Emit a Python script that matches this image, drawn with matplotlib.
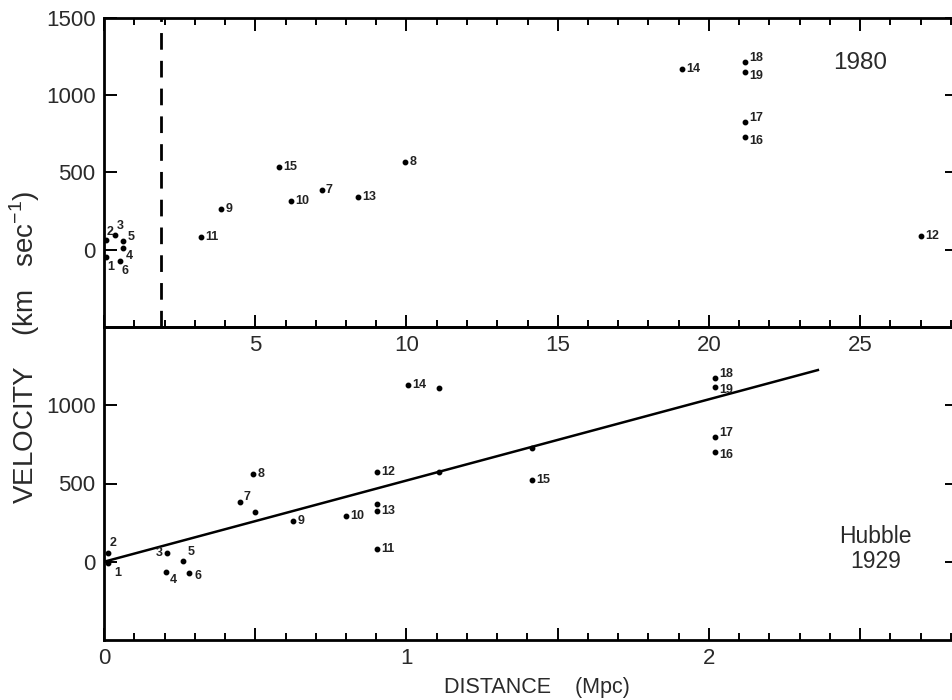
import matplotlib
matplotlib.use("Agg")
import matplotlib.pyplot as plt
from matplotlib.ticker import MultipleLocator, FixedLocator, FuncFormatter

plt.rcParams['font.family'] = ['Liberation Sans', 'DejaVu Sans']
plt.rcParams['mathtext.fontset'] = 'custom'
plt.rcParams['mathtext.rm'] = 'Liberation Sans'

# ---------------- data ----------------
galaxy_ids = [str(i) for i in range(1, 20)]

# 1980 distances (Mpc) and velocities (km/s)
dist_1980 = [0.05, 0.05, 0.36, 0.64, 0.64, 0.53, 7.2, 9.95, 3.88, 6.17,
             3.2, 27.0, 8.4, 19.1, 5.8, 21.2, 21.2, 21.2, 21.2]
vel_1980 = [-50, 60, 97, 11, 54, -76, 385, 569, 264, 318,
            80, 86, 340, 1168, 537, 729, 829, 1213, 1151]

# Hubble 1929 distances (Mpc) and velocities (km/s)
dist_1929 = [0.014, 0.013, 0.207, 0.205, 0.262, 0.281, 0.449, 0.493, 0.625, 0.801,
             0.903, 0.903, 0.903, 1.004, 1.414, 2.019, 2.019, 2.019, 2.019]
vel_1929 = [-9, 58, 56, -63, 2, -73, 381, 560, 262, 294,
            82, 575, 327, 1131, 521, 699, 798, 1175, 1116]

# unlabeled points in the 1929 panel
extra_dist_1929 = [0.498, 0.903, 1.106, 1.106, 1.416]
extra_vel_1929 = [320, 370, 1110, 575, 727]

# Hubble's fitted line
line_dist = [0.0, 2.36]
line_vel = [0, 1225]

dashed_dist_1980 = 1.9

top_xticks = [5, 10, 15, 20, 25]
bot_xticks = [0, 1, 2]
top_yticks = [0, 500, 1000, 1500]
bot_yticks = [0, 500, 1000]

# ---------------- figure ----------------
W, H = 952, 700
fig = plt.figure(figsize=(W / 100, H / 100), dpi=100)
fig.patch.set_facecolor('white')

left = 104 / W
right_px = 104 + 2.82 * 302.5
width = (right_px - 104) / W
ax_top = fig.add_axes([left, 1 - 327 / H, width, (327 - 18) / H])
ax_bot = fig.add_axes([left, 1 - 640 / H, width, (640 - 327) / H])

TXT = '#2a2a2a'
for ax in (ax_top, ax_bot):
    ax.set_ylim(-500, 1500)
    for s in ax.spines.values():
        s.set_linewidth(2.0)
    ax.tick_params(which='both', direction='in', width=1.4, labelsize=16,
                   left=True, right=True, pad=6, labelcolor=TXT)
    ax.tick_params(which='major', length=9)
    ax.tick_params(which='minor', length=5)

ax_top.set_xlim(0, 28.2)
ax_bot.set_xlim(0, 2.82)

# top panel ticks
ax_top.xaxis.set_major_locator(FixedLocator([0] + top_xticks))
ax_top.xaxis.set_major_formatter(FuncFormatter(lambda v, p: '' if v == 0 else f'{v:g}'))
ax_top.xaxis.set_minor_locator(MultipleLocator(1))
ax_top.tick_params(axis='x', which='both', top=True, bottom=True)
ax_top.yaxis.set_major_locator(FixedLocator(top_yticks))
ax_top.yaxis.set_minor_locator(FixedLocator([]))
ax_top.set_yticklabels([str(t) for t in top_yticks])
ax_top.set_zorder(3)
ax_top.patch.set_alpha(0)

# bottom panel ticks
ax_bot.xaxis.set_major_locator(MultipleLocator(0.5))
ax_bot.xaxis.set_major_formatter(
    FuncFormatter(lambda v, p: f'{int(round(v))}' if abs(v - round(v)) < 1e-6 and round(v) in bot_xticks else ''))
ax_bot.xaxis.set_minor_locator(MultipleLocator(0.1))
ax_bot.tick_params(axis='x', which='both', top=False, bottom=True)
ax_bot.yaxis.set_major_locator(FixedLocator(bot_yticks))
ax_bot.set_yticklabels([str(t) for t in bot_yticks])

# ---------------- marks ----------------
mk = dict(ls='none', marker='o', ms=3.2, color='black')
ax_top.plot(dist_1980, vel_1980, **mk)
ax_bot.plot(dist_1929, vel_1929, **mk)
ax_bot.plot(extra_dist_1929, extra_vel_1929, **mk)
ax_bot.plot(line_dist, line_vel, color='black', lw=1.8)
ax_top.axvline(dashed_dist_1980, color='black', lw=2.0, dashes=(6, 4))

lab_kw = dict(fontsize=9, fontweight='bold', color='#222222', va='center', ha='left')

top_off = {'1': (1, -7), '2': (1, 6), '3': (1, 6), '4': (2, -6), '5': (3, 3),
           '6': (1, -7)}
bot_off = {'1': (4, -7), '2': (1, 7), '3': (-8, 0), '4': (3, -6), '5': (3, 7),
           '6': (4, -2), '7': (3, 4)}
for gid, x, y in zip(galaxy_ids, dist_1980, vel_1980):
    dx, dy = top_off.get(gid, (3, 0))
    if gid in ('18', '17'):
        dy = 3
    if gid in ('19', '16'):
        dy = -3
    ax_top.annotate(gid, (x, y), xytext=(dx, dy), textcoords='offset points', **lab_kw)
for gid, x, y in zip(galaxy_ids, dist_1929, vel_1929):
    dx, dy = bot_off.get(gid, (3, 0))
    if gid in ('18', '17'):
        dy = 3
    if gid in ('19', '16'):
        dy = -2
    ax_bot.annotate(gid, (x, y), xytext=(dx, dy), textcoords='offset points', **lab_kw)

# ---------------- text ----------------
ax_top.text(25.0, 1210, '1980', fontsize=17.5, ha='center', va='center', color=TXT)
ax_bot.text(2.55, 84, 'Hubble\n1929', fontsize=16.5, ha='center', va='center',
            color=TXT, linespacing=1.1)

fig.text(25 / W, 1 - 347 / H, r'VELOCITY    (km   sec$^{\mathregular{-1}}$)', rotation=90,
         fontsize=20, ha='center', va='center', color=TXT)
fig.text(537 / W, 1 - 688 / H, 'DISTANCE    (Mpc)', fontsize=15.5, ha='center',
         va='center', color=TXT)

fig.savefig('out.png', dpi=100, facecolor='white')
